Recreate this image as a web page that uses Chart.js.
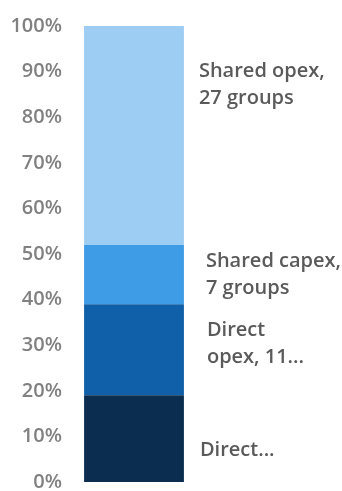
<!DOCTYPE html>
<html>
<head>
<meta charset="utf-8">
<script src="https://cdn.jsdelivr.net/npm/chart.js@4.4.1/dist/chart.umd.min.js"></script>
<style>
  html, body { margin: 0; padding: 0; background: #fff; }
  #wrap { width: 342px; height: 491px; }
</style>
</head>
<body>
<div id="wrap"><canvas id="chartCustos"></canvas></div>
<script>
// dados
var categorias = [''];
var series = ['Direct capex', 'Direct opex, 11 groups', 'Shared capex, 7 groups', 'Shared opex, 27 groups'];
var valores = [19, 20, 13, 48];
var cores = ['#0b2e50', '#0f60a8', '#3e9be6', '#9ecdf3'];
// textos mostrados ao lado da barra (cortados como no original)
var rotulos = [['Direct...'], ['Direct', 'opex, 11...'], ['Shared capex,', '7 groups'], ['Shared opex,', '27 groups']];

var fonte = "'Open Sans', 'DejaVu Sans', sans-serif";

// rotulos ao lado direito de cada fatia
var rotulosPlugin = {
    id: 'rotulos',
    afterDraw: function(chart) {
        var ctx = chart.ctx;
        var cfg = chart.options.plugins.rotulos;
        var yScale = chart.scales.y;
        ctx.save();
        ctx.font = '600 ' + cfg.size + 'px ' + fonte;
        ctx.fillStyle = cfg.color;
        ctx.textBaseline = 'middle';
        ctx.textAlign = 'left';
        chart.data.datasets.forEach(function(ds, i) {
            var bar = chart.getDatasetMeta(i).data[0];
            var y = yScale.getPixelForValue(cfg.anchors[i]);
            var x = bar.x + bar.width / 2 + cfg.dx[i];
            var linhas = rotulos[i];
            linhas.forEach(function(l, k) {
                ctx.fillText(l, x, y + (k - (linhas.length - 1) / 2) * cfg.lineHeight);
            });
        });
        ctx.restore();
    }
};

var mainCanvas = document.getElementById('chartCustos');

var grafico = new Chart(mainCanvas, {
    type: 'bar',
    data: {
        labels: categorias,
        datasets: series.map(function(nome, i) {
            return {
                label: nome,
                data: [valores[i]],
                backgroundColor: cores[i],
                borderWidth: 0,
                barPercentage: 1,
                categoryPercentage: 0.78
            };
        })
    },
    options: {
        responsive: true,
        maintainAspectRatio: false,
        animation: false,
        layout: { padding: { top: 26, bottom: 9, left: 0, right: 144 } },
        plugins: {
            legend: { display: false },
            tooltip: { enabled: false },
            rotulos: {
                anchors: [7, 30.3, 45.4, 87],
                dx: [16, 23, 22, 15],
                size: 20,
                lineHeight: 27,
                color: '#5a5a5a'
            }
        },
        scales: {
            x: { stacked: true, display: false },
            y: {
                stacked: true,
                min: 0,
                max: 100,
                afterFit: function(scale) {
                    scale.width = 70;
                    scale.paddingTop = 0;
                    scale.paddingBottom = 0;
                },
                grid: { display: false, drawTicks: false },
                border: { display: false },
                ticks: {
                    stepSize: 10,
                    padding: 8,
                    color: '#818181',
                    font: { family: fonte, size: 20, weight: '600' },
                    callback: function(v) { return v + '%'; }
                }
            }
        }
    },
    plugins: [rotulosPlugin]
});
</script>
</body>
</html>
